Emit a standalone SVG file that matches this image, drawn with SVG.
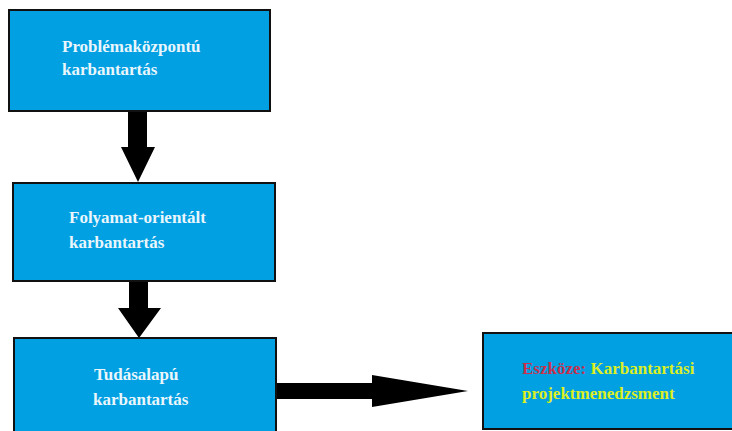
<svg xmlns="http://www.w3.org/2000/svg" width="732" height="431" viewBox="0 0 732 431">
<style>
.box{fill:#00a0e3;stroke:#111;stroke-width:2}
.t{font-family:"Liberation Serif",serif;font-weight:bold;font-size:17px;fill:#eaf6fc}
.y{fill:#dcee24}
.r{fill:#c8304c}
.arr{fill:#000}
</style>
<rect width="732" height="431" fill="#fff"/>
<g id="connectors">
<polygon class="arr" points="128,111 147,111 147,147 155,147 138,182 121,147 128,147"/>
<polygon class="arr" points="129,281 148,281 148,308 161,308 139,338 118,308 129,308"/>
<polygon class="arr" points="276,383 372,383 372,375 468,391 372,407 372,399 276,399"/>
</g>
<g id="n1">
<rect class="box" x="9" y="10" width="261" height="101"/>
<text class="t" x="62" y="52">Problémaközpontú</text>
<text class="t" x="62" y="75">karbantartás</text>
</g>
<g id="n2">
<rect class="box" x="13" y="183" width="262" height="98"/>
<text class="t" x="69" y="223">Folyamat-orientált</text>
<text class="t" x="69" y="248">karbantartás</text>
</g>
<g id="n3">
<rect class="box" x="14" y="338" width="262" height="100"/>
<text class="t" x="94" y="380">Tudásalapú</text>
<text class="t" x="93" y="405">karbantartás</text>
</g>
<g id="n4">
<rect class="box" x="483" y="333" width="252" height="96"/>
<text class="t" x="522" y="374"><tspan class="r">Eszköze:</tspan><tspan class="y"> Karbantartási</tspan></text>
<text class="t y" x="522" y="399">projektmenedzsment</text>
</g>
</svg>
